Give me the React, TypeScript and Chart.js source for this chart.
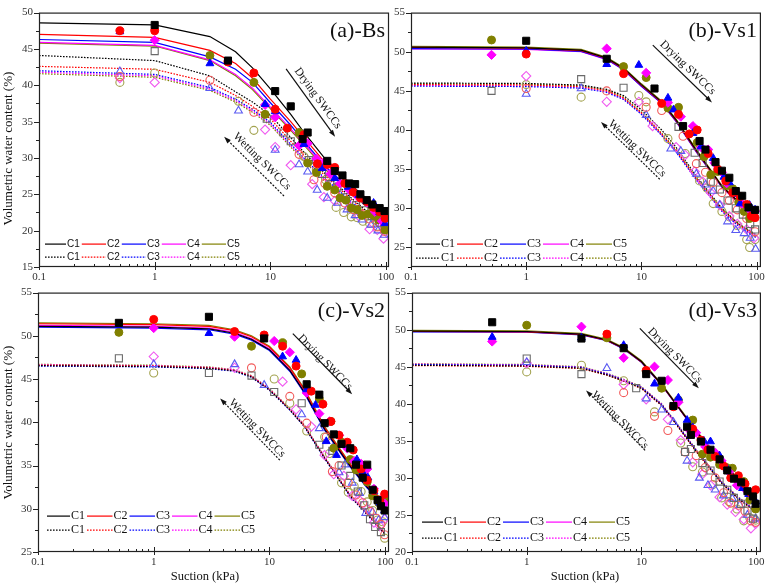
import { useEffect, useRef } from "react";
import { Chart, registerables } from "chart.js";

Chart.register(...registerables);

type Pt = [number, number];

const CURVES = ["C1", "C2", "C3", "C4", "C5"];
const LINE_COLORS = ["#000000", "#ff0000", "#0000ff", "#ff00ff", "#808000"];
const OPEN_COLORS = ["#6a6a6a", "#f25a5a", "#5a5af2", "#f05af0", "#a3a350"];
const MARKERS = ["rect", "circle", "triangle", "rectRot", "circle"];
const MARKER_SIZE = [5, 4, 4.5, 4.6, 4];
const X_TICK_LABELS = ["0.1", "1", "10", "100"];

// suction values at which the fitted SWCCs are listed (kPa)
const FIT_SUCTION = [0.1, 1, 3, 5, 7, 10, 15, 20, 30, 50, 70, 100];

// ---------- (a) Bs ----------
const bsDryFit = [
  [48.6, 48.3, 46.7, 44.6, 42.4, 39.5, 36.0, 33.3, 29.8, 26.3, 24.2, 22.5],
  [47.0, 46.6, 44.8, 43.0, 41.0, 38.1, 35.0, 32.6, 29.3, 26.0, 24.0, 22.0],
  [46.3, 45.9, 43.9, 42.2, 40.4, 37.6, 34.5, 32.1, 28.8, 25.6, 23.6, 21.7],
  [45.9, 45.5, 43.5, 41.5, 39.6, 37.0, 34.0, 31.8, 28.6, 25.3, 23.3, 21.4],
  [45.8, 45.4, 43.4, 41.3, 39.4, 36.8, 33.8, 31.6, 28.4, 25.1, 23.1, 21.2],
];
const bsWetFit = [
  [44.1, 43.4, 41.3, 39.1, 37.7, 35.9, 32.8, 30.6, 27.8, 24.5, 22.5, 20.8],
  [42.6, 42.2, 40.4, 38.6, 37.1, 35.4, 32.3, 30.2, 27.5, 24.3, 22.3, 20.5],
  [42.0, 41.5, 39.7, 38.1, 36.7, 34.9, 31.9, 29.8, 27.1, 24.0, 22.0, 20.2],
  [41.8, 41.3, 39.5, 37.9, 36.5, 34.7, 31.7, 29.6, 26.9, 23.8, 21.8, 20.0],
  [41.6, 41.1, 39.3, 37.7, 36.3, 34.5, 31.5, 29.4, 26.7, 23.6, 21.6, 19.8],
];
const bsDryPts: Pt[][] = [
  [[1, 48.3], [4.3, 43.4], [11, 39.2], [15, 37.1], [19, 32.6], [21, 33.5], [31, 29.6], [36, 28.2], [42, 27.6], [48, 26.5], [54, 26.4], [60, 25.0], [68, 24.2], [76, 23.6], [88, 23.1], [97, 22.7]],
  [[0.5, 47.5], [1, 47.5], [4.3, 43.2], [7.2, 41.7], [11, 36.7], [14, 34.1], [19.5, 33.2], [25.5, 29.2], [31, 29.1], [36, 28.7], [44, 26.5], [52, 25.3], [60, 24.5], [68, 24.0], [78, 23.2], [88, 22.6], [98, 21.7]],
  [[0.5, 47.4], [3, 43.0], [9, 37.4], [11, 36.4], [19.5, 31.9], [28, 28.6], [36, 27.2], [47, 26.0], [58, 24.9], [68, 24.0], [78, 23.8], [88, 22.5], [98, 21.0]],
  [[1, 46.2], [9, 37.3], [11, 35.6], [17.7, 31.7], [21, 32.0], [25, 29.9], [29, 29.4], [33, 27.8], [40, 26.5], [48, 25.6], [56, 24.8], [68, 23.9], [80, 22.6], [92, 21.3]],
  [[3, 44.1], [7.2, 40.4], [9, 36.0], [17.7, 33.5], [21, 29.3], [25, 28.0], [31, 26.1], [36, 25.6], [40, 24.5], [45, 24.2], [50, 23.1], [56, 22.9], [62, 22.1], [70, 22.3], [78, 22.1], [86, 21.5], [98, 20.1]],
];
const bsWetPts: Pt[][] = [
  [[1, 44.7], [9.3, 35.4], [13, 33.5], [15, 32.3], [21.5, 29.7], [28, 27.8], [33, 26.4], [38, 25.9], [45, 24.6], [55, 23.5], [65, 22.8], [75, 22.0], [88, 21.1], [99, 20.3]],
  [[0.5, 41.2], [3, 40.7], [7.2, 36.3], [17.7, 30.5], [23.8, 27.0], [29.6, 26.5], [36, 25.2], [44, 23.8], [52, 22.9], [62, 22.2], [72, 21.6], [84, 20.5], [97, 19.9]],
  [[0.5, 41.9], [3, 39.6], [5.3, 36.5], [11, 31.1], [17.7, 29.1], [21, 28.1], [25.4, 25.6], [31, 24.5], [38, 23.8], [46, 22.9], [54, 22.1], [62, 21.5], [74, 20.8], [85, 20.0], [96, 19.4]],
  [[0.5, 41.0], [1, 40.4], [9, 33.9], [11, 31.5], [15, 29.0], [23, 26.4], [29, 24.6], [36, 24.1], [48, 23.2], [58, 22.0], [72, 20.2], [84, 20.1], [95, 18.9]],
  [[0.5, 40.4], [1, 41.7], [5.3, 37.8], [7.2, 33.8], [19.5, 30.2], [25, 28.3], [30, 27.0], [37, 23.2], [43, 22.5], [50, 21.9], [56, 21.8], [63, 21.3], [72, 21.0], [84, 20.6], [96, 20.2]],
];

// ---------- (b) Vs1 ----------
const vs1DryFit = [
  [50.6, 50.5, 50.2, 49.2, 47.9, 45.8, 43.6, 41.3, 37.4, 32.8, 30.8, 29.5],
  [50.55, 50.45, 50.15, 49.15, 47.8, 45.7, 43.5, 41.2, 37.3, 32.8, 30.7, 29.4],
  [50.4, 50.35, 50.05, 49.05, 47.7, 45.6, 43.4, 41.1, 37.2, 32.7, 30.7, 29.4],
  [50.35, 50.3, 50.0, 49.0, 47.7, 45.6, 43.4, 41.1, 37.2, 32.7, 30.6, 29.3],
  [50.7, 50.6, 50.3, 49.3, 48.0, 45.9, 43.7, 41.4, 37.5, 32.9, 30.8, 29.5],
];
const vs1WetFit = [
  [46.0, 45.95, 45.75, 45.2, 44.4, 42.6, 40.0, 37.8, 34.1, 30.0, 28.0, 26.6],
  [45.8, 45.75, 45.55, 45.0, 44.1, 42.2, 39.5, 37.4, 33.8, 29.8, 27.9, 26.4],
  [45.6, 45.55, 45.35, 44.8, 43.9, 42.0, 39.3, 37.2, 33.6, 29.6, 27.7, 26.2],
  [45.7, 45.65, 45.45, 44.9, 44.0, 42.1, 39.4, 37.3, 33.7, 29.7, 27.8, 26.3],
  [45.9, 45.85, 45.65, 45.1, 44.2, 42.3, 39.6, 37.5, 33.9, 29.9, 28.0, 26.5],
];
const vs1DryPts: Pt[][] = [
  [[1, 51.4], [5, 49.1], [13, 45.3], [23, 40.5], [32, 38.6], [36, 37.5], [44, 35.9], [50, 34.8], [58, 33.9], [66, 32.2], [75, 31.6], [85, 30.1], [97, 29.8]],
  [[1, 49.7], [7, 47.2], [15, 43.4], [21, 42.0], [26, 39.5], [30.5, 40.0], [38, 37.0], [46, 35.0], [54, 33.5], [62, 32.0], [72, 31.5], [82, 30.5], [90, 29.0], [97, 28.8]],
  [[1, 50.1], [5, 48.4], [9.5, 48.3], [17, 44.1], [19, 42.6], [28, 39.6], [33, 37.9], [42, 36.4], [52, 34.0], [58, 33.3], [66, 31.8], [72, 30.6], [87, 30.4], [97, 29.8]],
  [[0.5, 49.6], [5, 50.4], [11, 47.3], [17, 43.5], [22, 41.7], [28, 40.5], [33, 37.8], [38, 37.5], [43, 35.8], [50, 34.6], [55, 33.2], [66, 32.0], [75, 30.6], [86, 29.9], [97, 29.6]],
  [[0.5, 51.5], [7, 48.1], [11, 46.7], [17, 42.8], [21, 42.9], [30.5, 38.4], [35, 36.6], [40, 34.3], [46, 34.7], [55, 32.9], [62, 32.5], [70, 30.8], [78, 29.6], [87, 28.7], [97, 29.7]],
];
const vs1WetPts: Pt[][] = [
  [[0.5, 45.0], [3, 46.5], [7, 45.4], [21, 40.4], [29, 37.1], [34, 35.8], [40, 33.4], [48, 32.4], [56, 31.0], [66, 30.0], [76, 29.2], [88, 28.0], [97, 27.3]],
  [[1, 45.3], [5, 45.0], [11, 42.9], [15, 42.5], [23, 39.2], [30, 35.7], [36, 34.6], [42, 33.3], [50, 32.0], [58, 31.0], [68, 29.8], [82, 28.7], [97, 27.0]],
  [[1, 44.6], [3, 45.3], [11, 41.9], [18, 37.6], [22, 37.3], [30, 34.4], [36, 33.0], [42, 32.2], [48, 30.4], [56, 28.3], [66, 27.2], [78, 26.8], [88, 26.2], [98, 24.8]],
  [[1, 46.9], [5, 43.6], [9.5, 43.6], [12.5, 40.5], [20, 37.8], [24, 36.8], [29, 34.7], [34, 33.4], [40, 32.0], [48, 30.4], [58, 29.0], [68, 28.0], [82, 27.3], [95, 26.2]],
  [[1, 45.8], [3, 44.2], [9.5, 44.4], [11, 43.6], [17, 38.9], [24, 37.0], [32, 33.5], [37, 32.6], [42, 30.6], [50, 29.6], [58, 28.9], [68, 27.8], [82, 26.0], [87, 25.0], [97, 26.0]],
];

// ---------- (c) Vs2 ----------
const vs2DryFit = [
  [51.1, 51.0, 50.8, 50.3, 49.6, 48.4, 46.0, 43.5, 39.2, 34.9, 32.5, 30.4],
  [51.4, 51.3, 51.1, 50.6, 49.9, 48.7, 46.3, 43.8, 39.4, 35.1, 32.7, 30.6],
  [51.0, 50.9, 50.7, 50.2, 49.5, 48.3, 45.9, 43.4, 39.1, 34.8, 32.4, 30.3],
  [51.2, 51.1, 50.9, 50.4, 49.7, 48.5, 46.1, 43.6, 39.3, 35.0, 32.6, 30.5],
  [51.5, 51.4, 51.2, 50.7, 50.0, 48.8, 46.4, 43.9, 39.5, 35.2, 32.8, 30.7],
];
const vs2WetFit = [
  [46.55, 46.45, 46.25, 45.95, 45.25, 43.75, 41.45, 39.55, 35.85, 31.45, 29.35, 27.05],
  [46.6, 46.5, 46.3, 46.0, 45.3, 43.8, 41.5, 39.6, 35.9, 31.5, 29.4, 27.1],
  [46.5, 46.4, 46.2, 45.9, 45.2, 43.7, 41.4, 39.5, 35.8, 31.4, 29.3, 27.0],
  [46.65, 46.55, 46.35, 46.05, 45.35, 43.85, 41.55, 39.65, 35.95, 31.55, 29.45, 27.15],
  [46.7, 46.6, 46.4, 46.1, 45.4, 43.9, 41.6, 39.7, 36.0, 31.6, 29.5, 27.2],
];
const vs2DryPts: Pt[][] = [
  [[0.5, 51.5], [3, 52.2], [9, 49.7], [21, 44.4], [27, 43.2], [30, 39.9], [36, 38.6], [42, 37.5], [50, 37.0], [56, 35.1], [64, 33.6], [70, 35.1], [78, 32.2], [86, 31.0], [92, 30.3], [99, 29.8]],
  [[1, 51.9], [5, 50.5], [9, 50.1], [13, 48.8], [17, 46.5], [23, 43.6], [29, 42.1], [34, 40.1], [40, 38.5], [47, 37.7], [53, 36.8], [62, 34.6], [70, 33.3], [80, 32.1], [90, 31.0], [99, 31.7]],
  [[0.5, 51.2], [3, 50.3], [13, 47.6], [17, 47.2], [21, 43.8], [25, 42.0], [31, 37.8], [38, 36.2], [44, 37.4], [50, 37.0], [57, 35.7], [64, 34.2], [71, 33.6], [80, 32.0], [90, 30.7], [99, 29.8]],
  [[1, 50.9], [5, 49.9], [11, 49.4], [15, 48.1], [21, 43.4], [27, 41.0], [33, 40.1], [40, 38.5], [47, 37.0], [54, 35.5], [62, 35.2], [70, 34.6], [80, 32.3], [90, 31.0], [99, 30.6]],
  [[0.5, 50.4], [7, 48.8], [13, 49.2], [19, 45.6], [27, 42.7], [34, 40.1], [36, 37.0], [42, 37.7], [50, 35.7], [56, 34.5], [62, 34.4], [70, 33.1], [78, 31.5], [88, 30.7], [99, 31.0]],
];
const vs2WetPts: Pt[][] = [
  [[0.5, 47.4], [3, 45.7], [7, 45.4], [11, 43.5], [19, 42.2], [27, 37.4], [35, 36.7], [42, 35.0], [50, 33.8], [58, 32.0], [66, 30.4], [74, 28.8], [82, 27.9], [92, 27.3]],
  [[7, 46.3], [15, 43.0], [21, 39.9], [31, 38.3], [35, 34.3], [40, 35.0], [48, 33.0], [56, 31.6], [64, 30.7], [74, 29.7], [84, 28.9], [92, 28.2], [99, 27.0]],
  [[1, 46.7], [5, 46.7], [9, 44.3], [19, 40.9], [27, 39.3], [35, 37.0], [40, 34.2], [45, 35.1], [52, 33.0], [60, 31.8], [68, 29.5], [78, 29.6], [88, 28.7], [99, 29.0]],
  [[1, 47.6], [5, 46.3], [13, 44.7], [17, 41.5], [23, 39.5], [30, 36.2], [36, 34.0], [44, 33.8], [52, 31.5], [60, 31.0], [70, 30.0], [80, 28.4], [90, 28.0], [99, 28.8]],
  [[1, 45.7], [11, 45.0], [15, 42.2], [21, 39.0], [30, 38.3], [33, 36.4], [42, 33.0], [48, 31.9], [54, 32.6], [62, 32.0], [70, 30.8], [78, 29.8], [86, 28.7], [95, 28.5], [99, 26.6]],
];

// ---------- (d) Vs3 ----------
const vs3DryFit = [
  [49.8, 49.75, 49.4, 48.6, 47.5, 45.7, 42.6, 40.0, 36.3, 32.1, 29.8, 27.5],
  [49.75, 49.7, 49.35, 48.55, 47.45, 45.65, 42.55, 39.95, 36.25, 32.05, 29.75, 27.45],
  [49.7, 49.65, 49.3, 48.5, 47.4, 45.6, 42.5, 39.9, 36.2, 32.0, 29.7, 27.4],
  [49.75, 49.7, 49.35, 48.55, 47.45, 45.65, 42.55, 39.95, 36.25, 32.05, 29.75, 27.45],
  [49.9, 49.85, 49.5, 48.7, 47.6, 45.8, 42.7, 40.1, 36.4, 32.2, 29.9, 27.6],
];
const vs3WetFit = [
  [45.2, 45.1, 44.8, 43.9, 43.1, 42.1, 39.8, 37.3, 33.6, 29.3, 27.2, 25.4],
  [45.15, 45.05, 44.75, 43.85, 43.05, 42.05, 39.75, 37.25, 33.55, 29.25, 27.15, 25.35],
  [45.3, 45.2, 44.9, 44.0, 43.2, 42.2, 39.9, 37.4, 33.7, 29.4, 27.3, 25.5],
  [45.35, 45.25, 44.95, 44.05, 43.25, 42.25, 39.95, 37.45, 33.75, 29.45, 27.35, 25.55],
  [45.4, 45.3, 45.0, 44.1, 43.3, 42.3, 40.0, 37.5, 33.8, 29.5, 27.4, 25.6],
];
const vs3DryPts: Pt[][] = [
  [[0.5, 51.0], [3, 48.8], [7, 47.5], [11, 44.0], [15, 43.1], [19, 39.7], [25, 36.9], [27, 35.8], [33, 34.9], [40, 33.8], [48, 32.5], [56, 31.0], [64, 29.9], [74, 29.4], [84, 28.2], [94, 27.5], [99, 26.5]],
  [[5, 49.4], [11, 44.5], [19, 39.6], [28, 36.6], [33, 35.1], [38, 33.8], [44, 32.9], [52, 31.6], [60, 30.0], [70, 30.3], [80, 29.2], [90, 28.0], [99, 28.4]],
  [[0.5, 49.0], [3, 48.9], [7, 47.9], [13, 42.7], [21, 40.8], [25, 37.8], [28, 36.8], [35, 35.0], [40, 34.9], [48, 33.0], [56, 31.2], [66, 29.8], [76, 28.6], [86, 27.8], [99, 26.8]],
  [[0.5, 48.4], [3, 50.4], [7, 46.2], [13, 45.0], [17, 43.2], [21, 40.2], [26, 36.5], [30, 36.1], [36, 34.2], [44, 33.4], [50, 32.3], [58, 30.8], [68, 29.0], [80, 28.5], [92, 27.6]],
  [[1, 50.6], [5, 48.9], [11, 44.4], [15, 42.1], [21, 40.5], [28, 37.8], [34, 33.2], [40, 32.8], [48, 31.8], [55, 31.4], [62, 31.3], [70, 29.6], [78, 29.5], [88, 27.0], [99, 25.8]],
];
const vs3WetPts: Pt[][] = [
  [[1, 46.1], [3, 44.0], [9, 42.1], [24, 33.5], [27, 33.9], [34, 32.0], [40, 31.0], [48, 29.5], [56, 28.4], [64, 27.3], [74, 26.5], [84, 25.6], [94, 24.5]],
  [[7, 41.5], [13, 38.3], [17, 36.4], [24, 33.5], [30, 33.0], [36, 31.4], [44, 30.0], [52, 28.0], [60, 26.6], [70, 26.3], [80, 25.5], [90, 24.2], [99, 24.0]],
  [[1, 45.6], [5, 44.8], [11, 40.7], [15, 39.2], [19, 37.5], [25, 32.3], [32, 30.0], [38, 29.0], [44, 28.4], [52, 27.6], [62, 27.2], [72, 26.3], [84, 25.0], [99, 24.5]],
  [[1, 45.5], [7, 42.6], [11, 40.6], [17, 37.9], [22, 35.1], [28, 32.1], [34, 30.5], [40, 29.0], [48, 27.4], [56, 26.4], [66, 25.4], [78, 24.4], [90, 23.2], [99, 23.8]],
  [[1, 44.3], [3, 45.2], [7, 43.1], [13, 38.9], [22, 34.7], [28, 31.5], [34, 30.8], [42, 29.1], [50, 27.3], [58, 26.8], [68, 25.8], [78, 24.2], [88, 24.6], [99, 24.3]],
];

type Arrow = { from: Pt; to: Pt; label: Pt };
interface Panel {
  title: string;
  yMin: number;
  yMax: number;
  xMax: number;
  // plot-area rectangle on the page
  left: number;
  top: number;
  width: number;
  height: number;
  // room reserved around the plot area inside the canvas
  padL: number;
  padT: number;
  padR: number;
  padB: number;
  dryFit: number[][];
  wetFit: number[][];
  dryPts: Pt[][];
  wetPts: Pt[][];
  legend: { x0: number; t0: number; step: number; row1: number; row2: number; font: string };
  dry: Arrow;
  wet: Arrow;
  yTitleY?: number;
  xTitleX?: number;
}

const SERIF = "'Liberation Serif', 'Times New Roman', serif";

const PANELS: Panel[] = [
  {
    title: "(a)-Bs", yMin: 15, yMax: 50, xMax: 106,
    left: 39, top: 9, width: 350, height: 258, padL: 39, padT: 9, padR: 14, padB: 22,
    dryFit: bsDryFit, wetFit: bsWetFit, dryPts: bsDryPts, wetPts: bsWetPts,
    legend: { x0: 6, t0: 28, step: 40, row1: 231, row2: 244, font: "10px 'Liberation Sans', Arial, sans-serif" },
    dry: { from: [0.706, 0.221], to: [0.846, 0.488], label: [0.797, 0.337] },
    wet: { from: [0.7, 0.721], to: [0.529, 0.488], label: [0.637, 0.585] },
    yTitleY: 136,
  },
  {
    title: "(b)-Vs1", yMin: 22.5, yMax: 55, xMax: 109,
    left: 411, top: 9, width: 350, height: 258, padL: 32, padT: 9, padR: 6, padB: 22,
    dryFit: vs1DryFit, wetFit: vs1WetFit, dryPts: vs1DryPts, wetPts: vs1WetPts,
    legend: { x0: 5, t0: 30, step: 43, row1: 231, row2: 245, font: `12px ${SERIF}` },
    dry: { from: [0.691, 0.128], to: [0.86, 0.353], label: [0.791, 0.217] },
    wet: { from: [0.711, 0.655], to: [0.543, 0.43], label: [0.646, 0.535] },
  },
  {
    title: "(c)-Vs2", yMin: 25, yMax: 55, xMax: 108,
    left: 38, top: 292, width: 351, height: 260, padL: 38, padT: 12, padR: 14, padB: 35,
    dryFit: vs2DryFit, wetFit: vs2WetFit, dryPts: vs2DryPts, wetPts: vs2WetPts,
    legend: { x0: 9, t0: 33, step: 42.5, row1: 223, row2: 237, font: `12px ${SERIF}` },
    dry: { from: [0.726, 0.158], to: [0.895, 0.392], label: [0.818, 0.269] },
    wet: { from: [0.689, 0.646], to: [0.519, 0.408], label: [0.624, 0.523] },
    yTitleY: 130,
    xTitleX: 167,
  },
  {
    title: "(d)-Vs3", yMin: 20, yMax: 55, xMax: 110,
    left: 412, top: 292, width: 349, height: 260, padL: 33, padT: 12, padR: 6, padB: 35,
    dryFit: vs3DryFit, wetFit: vs3WetFit, dryPts: vs3DryPts, wetPts: vs3WetPts,
    legend: { x0: 10, t0: 32, step: 43, row1: 229, row2: 245, font: `12px ${SERIF}` },
    dry: { from: [0.653, 0.138], to: [0.822, 0.369], label: [0.754, 0.242] },
    wet: { from: [0.668, 0.608], to: [0.499, 0.377], label: [0.596, 0.492] },
    xTitleX: 173,
  },
];

const DOT: number[] = [1.6, 1.4];

function buildDatasets(p: Panel) {
  const sets: any[] = [];
  p.dryPts.forEach((pts, i) => {
    sets.push({
      label: `${CURVES[i]} drying`,
      data: pts.map(([x, y]) => ({ x, y })),
      pointStyle: MARKERS[i],
      pointRadius: MARKER_SIZE[i],
      pointBackgroundColor: LINE_COLORS[i],
      pointBorderColor: LINE_COLORS[i],
      pointBorderWidth: 1,
      showLine: false,
    });
  });
  p.wetPts.forEach((pts, i) => {
    sets.push({
      label: `${CURVES[i]} wetting`,
      data: pts.map(([x, y]) => ({ x, y })),
      pointStyle: MARKERS[i],
      pointRadius: MARKER_SIZE[i],
      pointBackgroundColor: "rgba(255,255,255,0)",
      pointBorderColor: OPEN_COLORS[i],
      pointBorderWidth: 1.1,
      showLine: false,
    });
  });
  p.dryFit.forEach((vals, i) => {
    sets.push({
      label: `${CURVES[i]} drying fit`,
      data: FIT_SUCTION.map((x, k) => ({ x, y: vals[k] })),
      showLine: true,
      borderColor: LINE_COLORS[i],
      borderWidth: 1.2,
      pointRadius: 0,
      tension: 0,
    });
  });
  p.wetFit.forEach((vals, i) => {
    sets.push({
      label: `${CURVES[i]} wetting fit`,
      data: FIT_SUCTION.map((x, k) => ({ x, y: vals[k] })),
      showLine: true,
      borderColor: LINE_COLORS[i],
      borderWidth: 1.2,
      borderDash: DOT,
      pointRadius: 0,
      tension: 0,
    });
  });
  return sets;
}

function drawArrow(ctx: CanvasRenderingContext2D, a: any, arrow: Arrow, dashed: boolean) {
  const w = a.right - a.left;
  const h = a.bottom - a.top;
  const x1 = a.left + arrow.from[0] * w;
  const y1 = a.top + arrow.from[1] * h;
  const x2 = a.left + arrow.to[0] * w;
  const y2 = a.top + arrow.to[1] * h;
  const ang = Math.atan2(y2 - y1, x2 - x1);
  const head = 7;
  ctx.save();
  ctx.strokeStyle = "#111";
  ctx.fillStyle = "#111";
  ctx.lineWidth = 1.2;
  ctx.setLineDash(dashed ? [2, 1.5] : []);
  ctx.beginPath();
  ctx.moveTo(x1, y1);
  ctx.lineTo(x2 - Math.cos(ang) * head * 0.8, y2 - Math.sin(ang) * head * 0.8);
  ctx.stroke();
  ctx.setLineDash([]);
  ctx.beginPath();
  ctx.moveTo(x2, y2);
  ctx.lineTo(x2 - head * Math.cos(ang) + 2.4 * Math.sin(ang), y2 - head * Math.sin(ang) - 2.4 * Math.cos(ang));
  ctx.lineTo(x2 - head * Math.cos(ang) - 2.4 * Math.sin(ang), y2 - head * Math.sin(ang) + 2.4 * Math.cos(ang));
  ctx.closePath();
  ctx.fill();
  // caption runs parallel to the arrow, reading left to right
  const tAng = x2 > x1 ? ang : Math.atan2(y1 - y2, x1 - x2);
  ctx.translate(a.left + arrow.label[0] * w, a.top + arrow.label[1] * h);
  ctx.rotate(tAng);
  ctx.font = `11.5px ${SERIF}`;
  ctx.textAlign = "center";
  ctx.textBaseline = "middle";
  ctx.fillText(dashed ? "Wetting SWCCs" : "Drying SWCCs", 0, 0);
  ctx.restore();
}

function decorPlugin(p: Panel) {
  return {
    id: "swccDecor",
    afterDraw(chart: any) {
      const ctx: CanvasRenderingContext2D = chart.ctx;
      const a = chart.chartArea;
      const xs = chart.scales.x;
      const ys = chart.scales.y;
      ctx.save();

      // frame
      ctx.strokeStyle = "#222";
      ctx.lineWidth = 1.2;
      ctx.strokeRect(a.left + 0.5, a.top + 0.5, a.right - a.left - 1, a.bottom - a.top - 1);

      // y ticks, outward, with a minor tick half-way
      ctx.lineWidth = 1;
      ctx.beginPath();
      for (let v = Math.ceil(p.yMin / 2.5) * 2.5; v <= p.yMax + 1e-6; v += 2.5) {
        const y = Math.round(ys.getPixelForValue(v)) + 0.5;
        const major = Math.abs(v / 5 - Math.round(v / 5)) < 1e-6;
        ctx.moveTo(a.left - (major ? 5 : 3), y);
        ctx.lineTo(a.left, y);
      }
      // x ticks on the log axis, inward
      for (let e = -1; e <= 2; e++) {
        for (let k = 1; k <= 9; k++) {
          const s = k * Math.pow(10, e);
          if (s < 0.1 - 1e-9 || s > p.xMax) continue;
          const x = Math.round(xs.getPixelForValue(s)) + 0.5;
          const major = k === 1;
          ctx.moveTo(x, a.bottom + (major ? 3 : 0));
          ctx.lineTo(x, a.bottom - (major ? 5 : 3));
        }
      }
      ctx.strokeStyle = "#222";
      ctx.stroke();

      // panel title
      ctx.fillStyle = "#111";
      ctx.font = `22px ${SERIF}`;
      ctx.textAlign = "right";
      ctx.textBaseline = "middle";
      ctx.fillText(p.title, a.right - 4, a.top + 19);

      // legend: solid = drying fit, dotted = wetting fit
      const L = p.legend;
      ctx.font = L.font;
      ctx.textAlign = "left";
      const tw = ctx.measureText("C1").width;
      [L.row1, L.row2].forEach((row, r) => {
        const y = a.top + row;
        CURVES.forEach((name, i) => {
          const tx = a.left + L.t0 + i * L.step;
          const lx0 = i === 0 ? a.left + L.x0 : a.left + L.t0 + (i - 1) * L.step + tw + 2;
          ctx.beginPath();
          ctx.strokeStyle = LINE_COLORS[i];
          ctx.lineWidth = 1.2;
          ctx.setLineDash(r === 0 ? [] : DOT);
          ctx.moveTo(lx0, y + 0.5);
          ctx.lineTo(tx - 1, y + 0.5);
          ctx.stroke();
          ctx.setLineDash([]);
          ctx.fillStyle = "#111";
          ctx.fillText(name, tx, y + 0.5);
        });
      });

      drawArrow(ctx, a, p.dry, false);
      drawArrow(ctx, a, p.wet, true);

      // axis titles
      ctx.fillStyle = "#111";
      ctx.textAlign = "center";
      ctx.textBaseline = "middle";
      if (p.yTitleY !== undefined) {
        ctx.save();
        ctx.translate(9, a.top + p.yTitleY);
        ctx.rotate(-Math.PI / 2);
        ctx.font = `13px ${SERIF}`;
        ctx.fillText("Volumetric water content (%)", 0, 0);
        ctx.restore();
      }
      if (p.xTitleX !== undefined) {
        ctx.font = `12.5px ${SERIF}`;
        ctx.fillText("Suction (kPa)", a.left + p.xTitleX, a.bottom + 25);
      }
      ctx.restore();
    },
  };
}

function SwccPanel({ p }: { p: Panel }) {
  const ref = useRef<HTMLCanvasElement | null>(null);
  const cw = p.padL + p.width + p.padR;
  const ch = p.padT + p.height + p.padB;

  useEffect(() => {
    if (!ref.current) return;
    const tickFont = { family: SERIF, size: 11 };
    const chart = new Chart(ref.current, {
      type: "scatter",
      data: { datasets: buildDatasets(p) },
      options: {
        animation: false,
        responsive: false,
        devicePixelRatio: 1,
        layout: { padding: { top: p.padT, right: p.padR, left: 0, bottom: 0 } },
        plugins: { legend: { display: false }, tooltip: { enabled: false } },
        scales: {
          x: {
            type: "logarithmic",
            min: 0.1,
            max: p.xMax,
            afterFit: (s: any) => {
              s.height = p.padB;
            },
            grid: { display: false, drawTicks: false },
            border: { display: false },
            ticks: {
              autoSkip: false,
              maxRotation: 0,
              padding: 4,
              color: "#333",
              font: tickFont,
              callback: (v: any) => {
                const e = Math.log10(Number(v));
                const k = Math.round(e);
                if (Math.abs(e - k) > 1e-6) return "";
                return X_TICK_LABELS[k + 1] ?? "";
              },
            },
          },
          y: {
            min: p.yMin,
            max: p.yMax,
            afterFit: (s: any) => {
              s.width = p.padL;
            },
            afterBuildTicks: (s: any) => {
              s.ticks = s.ticks.filter((t: any) => Math.abs(t.value / 5 - Math.round(t.value / 5)) < 1e-6);
            },
            grid: { display: false, drawTicks: false },
            border: { display: false },
            ticks: { stepSize: 5, padding: 6, color: "#333", font: tickFont },
          },
        },
      } as any,
      plugins: [decorPlugin(p)],
    });
    return () => chart.destroy();
  }, [p]);

  return (
    <canvas
      ref={ref}
      width={cw}
      height={ch}
      style={{ position: "absolute", left: p.left - p.padL, top: p.top - p.padT, width: cw, height: ch }}
    />
  );
}

export default function App() {
  return (
    <div
      style={{
        position: "absolute",
        left: 0,
        top: 0,
        width: 767,
        height: 587,
        background: "#fff",
        overflow: "hidden",
      }}
    >
      {PANELS.map((p) => (
        <SwccPanel key={p.title} p={p} />
      ))}
    </div>
  );
}
